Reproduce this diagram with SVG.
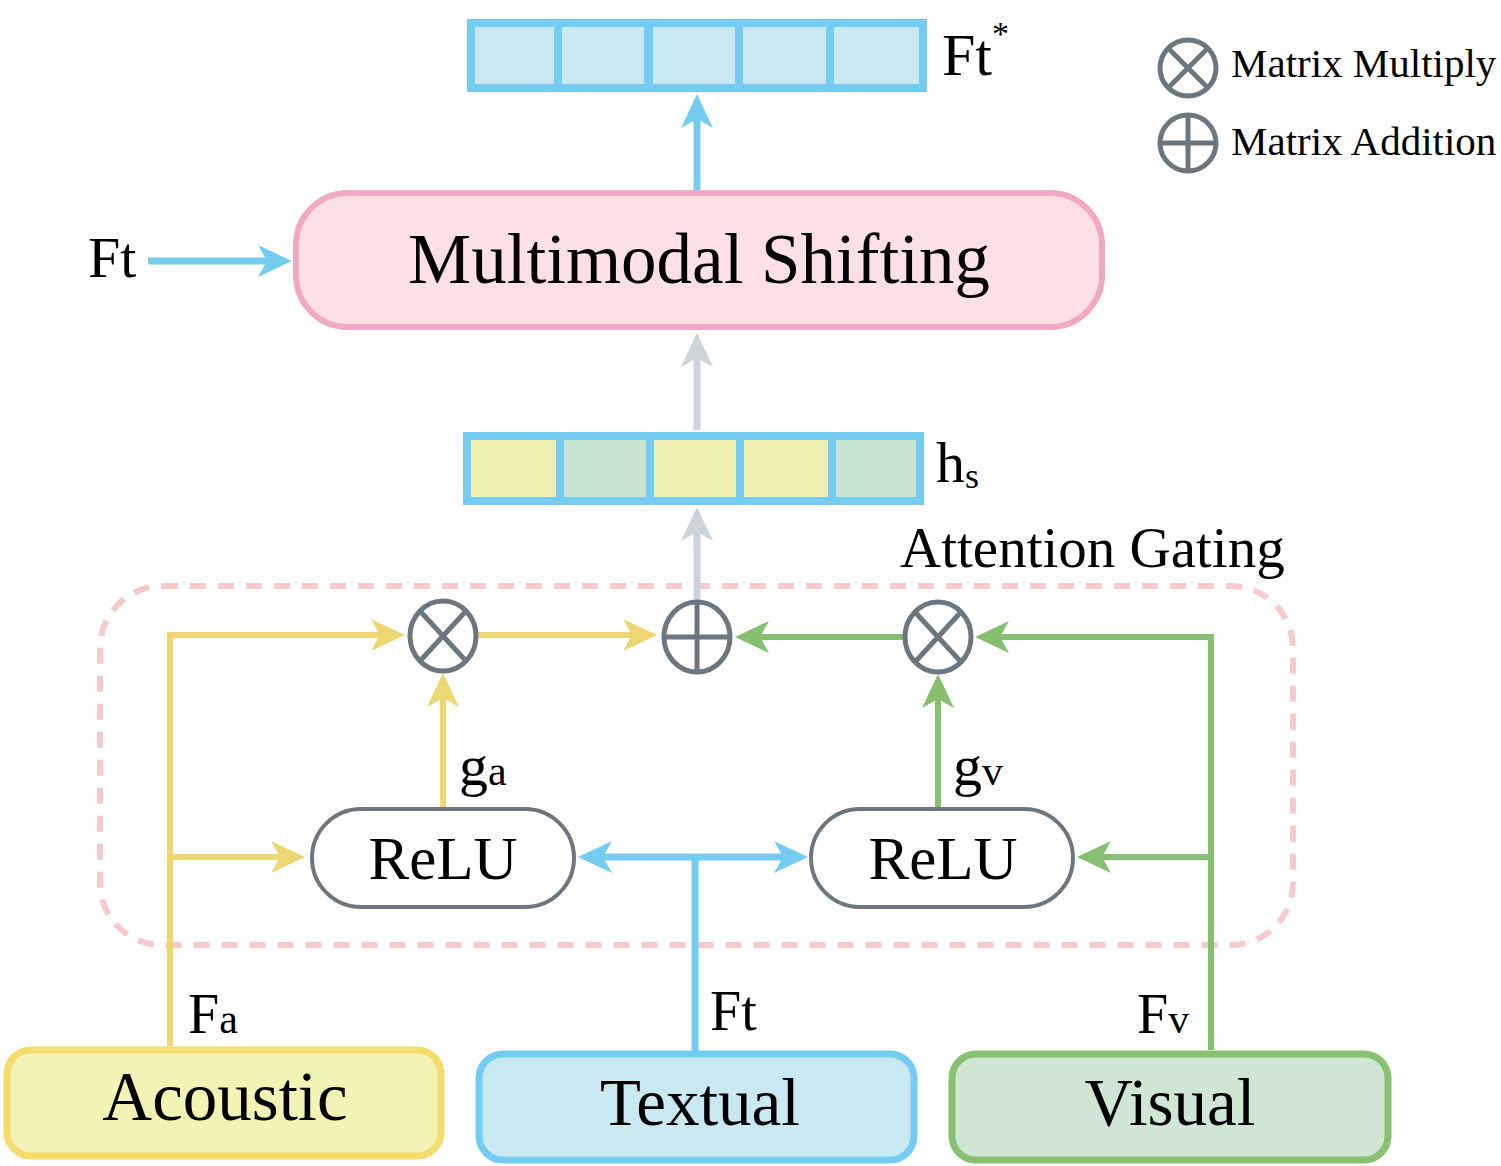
<svg xmlns="http://www.w3.org/2000/svg" width="1501" height="1166" viewBox="0 0 1501 1166">
<style>
text{font-family:"Liberation Serif","Times New Roman",serif;fill:#000}
.op{fill:#fff;stroke:#6B767F;stroke-width:5}
.opl{stroke:#6B767F;stroke-width:5;fill:none}
.y{stroke:#EED772;stroke-width:6;fill:none}
.g{stroke:#85BF6F;stroke-width:6;fill:none}
.b{stroke:#74CCF1;stroke-width:7;fill:none}
.gr{stroke:#CDD3DB;stroke-width:7;fill:none}
.cellb{fill:#CAE8F0}
.celly{fill:#EFEFB4}
.cellg{fill:#CBE3D3}
</style>
<defs>
<marker id="ay" viewBox="0 0 34 32" refX="24" refY="16" markerWidth="34" markerHeight="32" markerUnits="userSpaceOnUse" orient="auto-start-reverse"><path d="M0,0 L34,16 L0,32 L9,16 z" fill="#EED772"/></marker>
<marker id="ag" viewBox="0 0 34 32" refX="24" refY="16" markerWidth="34" markerHeight="32" markerUnits="userSpaceOnUse" orient="auto-start-reverse"><path d="M0,0 L34,16 L0,32 L9,16 z" fill="#85BF6F"/></marker>
<marker id="ab" viewBox="0 0 34 32" refX="24" refY="16" markerWidth="34" markerHeight="32" markerUnits="userSpaceOnUse" orient="auto-start-reverse"><path d="M0,0 L34,16 L0,32 L9,16 z" fill="#74CCF1"/></marker>
<marker id="agr" viewBox="0 0 34 32" refX="24" refY="16" markerWidth="34" markerHeight="32" markerUnits="userSpaceOnUse" orient="auto-start-reverse"><path d="M0,0 L34,16 L0,32 L9,16 z" fill="#CDD3DB"/></marker>
</defs>

<!-- attention gating region -->
<g id="attention-gating">
<rect x="100" y="586" width="1193" height="359" rx="62" fill="none" stroke="#F7C9CC" stroke-width="6" stroke-dasharray="16 12"/>
<text x="900" y="567" font-size="57">Attention Gating</text>
</g>

<!-- connectors -->
<g id="connectors">
<path class="b" d="M697,190 V104" marker-end="url(#ab)"/>
<path class="b" d="M148,261 H282" marker-end="url(#ab)"/>
<path class="gr" d="M697,430 V343" marker-end="url(#agr)"/>
<path class="gr" d="M697,603 V517" marker-end="url(#agr)"/>
<path class="y" d="M170,1046 V635 H395" marker-end="url(#ay)"/>
<path class="y" d="M170,857 H295" marker-end="url(#ay)"/>
<path class="y" d="M477,635 H647" marker-end="url(#ay)"/>
<path class="y" d="M443,808 V683" marker-end="url(#ay)"/>
<path class="g" d="M1211,1050 V637 H985" marker-end="url(#ag)"/>
<path class="g" d="M1211,857 H1087" marker-end="url(#ag)"/>
<path class="g" d="M903,637 H745" marker-end="url(#ag)"/>
<path class="g" d="M938,808 V684" marker-end="url(#ag)"/>
<path class="b" d="M695,1052 V857"/>
<path class="b" d="M588,857 H798" marker-start="url(#ab)" marker-end="url(#ab)"/>
</g>

<!-- output bar Ft* -->
<g id="ft-star">
<rect x="467" y="19" width="460" height="73" fill="#74CCF1"/>
<rect class="cellb" x="475" y="27" width="79" height="57"/>
<rect class="cellb" x="562" y="27" width="82" height="57"/>
<rect class="cellb" x="653" y="27" width="82" height="57"/>
<rect class="cellb" x="743" y="27" width="83" height="57"/>
<rect class="cellb" x="834" y="27" width="85" height="57"/>
<text x="942" y="75" font-size="60">Ft<tspan font-size="34" dy="-30">*</tspan></text>
</g>

<!-- multimodal shifting -->
<g id="multimodal-shifting">
<rect x="296" y="193" width="806" height="134" rx="52" fill="#FCE0E3" stroke="#F0A8C4" stroke-width="6"/>
<text x="699" y="283" font-size="71" text-anchor="middle">Multimodal Shifting</text>
</g>

<g id="ft-left"><text x="88" y="277" font-size="58">Ft</text></g>

<!-- hs bar -->
<g id="hs">
<rect x="463" y="432" width="461" height="73" fill="#74CCF1"/>
<rect class="celly" x="471" y="440" width="85" height="57"/>
<rect class="cellg" x="564" y="440" width="82" height="57"/>
<rect class="celly" x="654" y="440" width="82" height="57"/>
<rect class="celly" x="744" y="440" width="84" height="57"/>
<rect class="cellg" x="836" y="440" width="80" height="57"/>
<text x="936" y="482" font-size="58">h<tspan font-size="36" dy="6">s</tspan></text>
</g>

<!-- operators -->
<g id="mul-a">
<ellipse class="op" cx="443" cy="636" rx="33" ry="35"/>
<path class="opl" d="M420,611 L466,661 M466,611 L420,661"/>
</g>
<g id="add">
<ellipse class="op" cx="697" cy="637" rx="33" ry="35"/>
<path class="opl" d="M697,602 V672 M664,637 H730"/>
</g>
<g id="mul-v">
<ellipse class="op" cx="938" cy="637" rx="33" ry="35"/>
<path class="opl" d="M915,612 L961,662 M961,612 L915,662"/>
</g>

<!-- ReLU -->
<g id="relu-a">
<rect x="312" y="809" width="262" height="98" rx="49" fill="#fff" stroke="#6B767F" stroke-width="4"/>
<text x="443" y="879" font-size="61" text-anchor="middle">ReLU</text>
</g>
<g id="relu-v">
<rect x="811" y="809" width="262" height="98" rx="49" fill="#fff" stroke="#6B767F" stroke-width="4"/>
<text x="943" y="879" font-size="61" text-anchor="middle">ReLU</text>
</g>

<g id="label-ga"><text x="459" y="785" font-size="58">g<tspan font-size="42">a</tspan></text></g>
<g id="label-gv"><text x="953" y="785" font-size="58">g<tspan font-size="42">v</tspan></text></g>
<g id="label-fa"><text x="188" y="1033" font-size="56">F<tspan font-size="42">a</tspan></text></g>
<g id="label-ft"><text x="710" y="1030" font-size="56">Ft</text></g>
<g id="label-fv"><text x="1137" y="1033" font-size="56">F<tspan font-size="42">v</tspan></text></g>

<!-- inputs -->
<g id="acoustic">
<rect x="7" y="1050" width="434" height="106" rx="24" fill="#F3F3B5" stroke="#F4DC6E" stroke-width="7"/>
<text x="225" y="1120" font-size="69" text-anchor="middle">Acoustic</text>
</g>
<g id="textual">
<rect x="479" y="1054" width="435" height="106" rx="24" fill="#CAE8F0" stroke="#74CCF1" stroke-width="7"/>
<text x="700" y="1125" font-size="67" text-anchor="middle">Textual</text>
</g>
<g id="visual">
<rect x="952" y="1054" width="436" height="106" rx="24" fill="#CFE6D5" stroke="#88C172" stroke-width="7"/>
<text x="1170" y="1125" font-size="67" text-anchor="middle">Visual</text>
</g>

<!-- legend -->
<g id="legend-multiply">
<circle class="op" cx="1188" cy="68" r="28"/>
<path class="opl" d="M1168,48 L1208,88 M1208,48 L1168,88"/>
<text x="1231" y="77" font-size="41">Matrix Multiply</text>
</g>
<g id="legend-addition">
<circle class="op" cx="1188" cy="143" r="28"/>
<path class="opl" d="M1188,115 V171 M1160,143 H1216"/>
<text x="1231" y="155" font-size="41">Matrix Addition</text>
</g>
</svg>
